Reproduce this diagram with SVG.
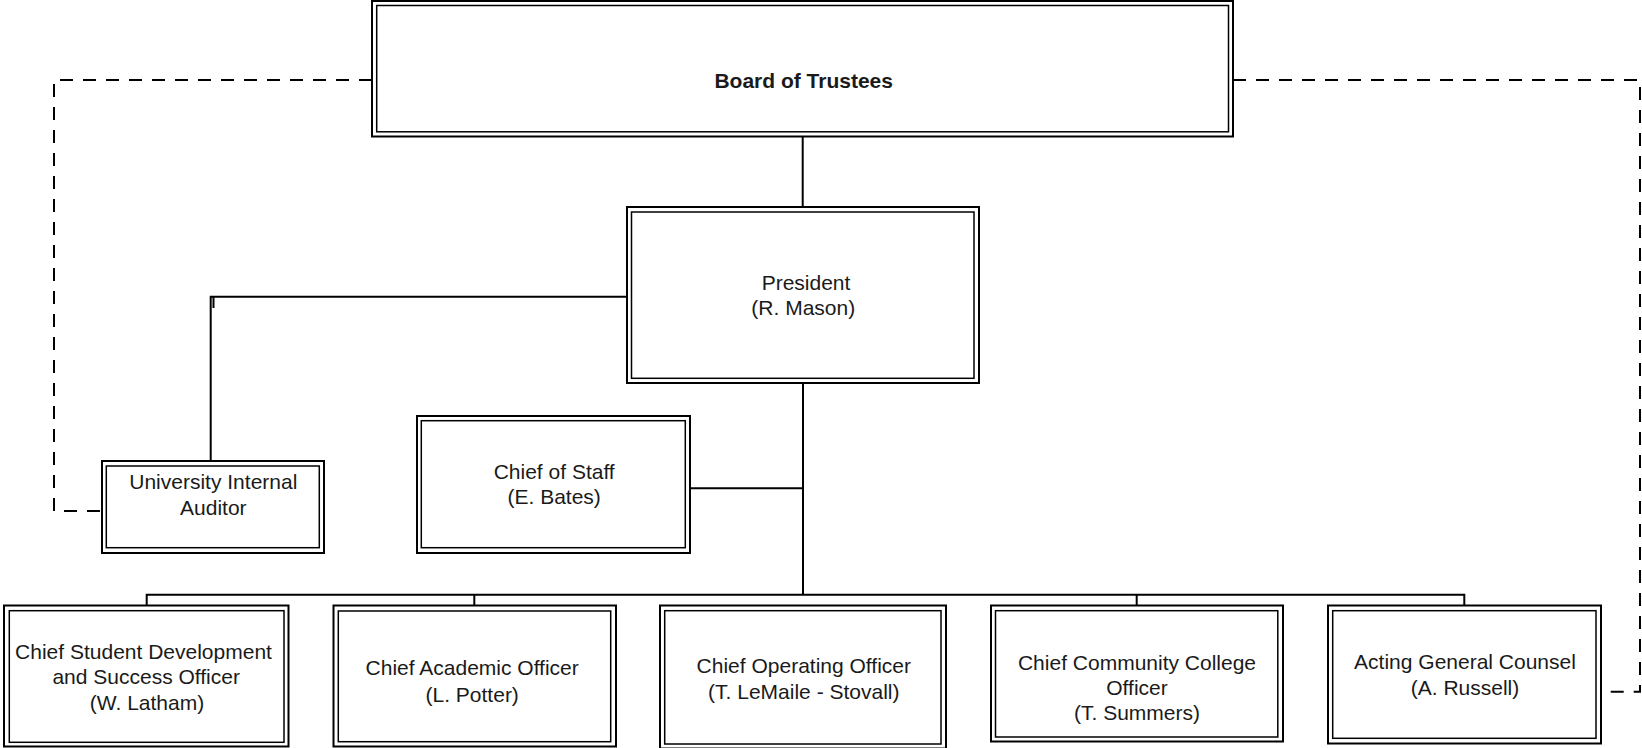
<svg xmlns="http://www.w3.org/2000/svg" width="1642" height="748" viewBox="0 0 1642 748">
<style>
  .outer { fill: #ffffff; stroke: #000; stroke-width: 2; }
  .inner { fill: none; stroke: #000; stroke-width: 1.5; }
  .lbl { font-family: "Liberation Sans", Arial, sans-serif; font-size: 21px; fill: #1a1a1a; text-anchor: middle; }
  .bold { font-weight: bold; }
  .solid { fill: none; stroke: #000; stroke-width: 2; }
  .dash { fill: none; stroke: #000; stroke-width: 2; stroke-dasharray: 13 10; }
</style>
<rect width="1642" height="748" fill="#ffffff"/>
<g id="connectors">
  <path class="solid" d="M802.7 136.5 V206.7"/>
  <path class="solid" d="M803 383 V594.8"/>
  <path class="solid" d="M690 488.3 H803"/>
  <path class="solid" d="M627 296.7 H210.7 V461"/>
  <path class="solid" d="M213.5 297 V308"/>
  <path class="solid" d="M146.7 605.5 V594.8 H1464.3 V605.5"/>
  <path class="solid" d="M474.3 594.8 V605.5"/>
  <path class="solid" d="M1136.7 594.8 V605.5"/>
  <path class="dash" d="M372 80 H54 V511 H102"/>
  <path class="dash" d="M1233 80 H1640 V691.7 H1601"/>
</g>
<g id="board">
  <rect class="outer" x="372" y="1" width="861" height="135.5"/>
  <rect class="inner" x="376.7" y="5.5" width="851.8" height="126.3"/>
  <text class="lbl bold" x="803.7" y="88.3">Board of Trustees</text>
</g>
<g id="president">
  <rect class="outer" x="627" y="207" width="352" height="176"/>
  <rect class="inner" x="631.5" y="212" width="342.5" height="166.3"/>
  <text class="lbl" x="806" y="290">President</text>
  <text class="lbl" x="803.3" y="315">(R. Mason)</text>
</g>
<g id="chief-of-staff">
  <rect class="outer" x="417" y="416" width="273" height="137"/>
  <rect class="inner" x="421.3" y="420.7" width="264" height="127"/>
  <text class="lbl" x="554.2" y="479">Chief of Staff</text>
  <text class="lbl" x="554.2" y="504.3">(E. Bates)</text>
</g>
<g id="auditor">
  <rect class="outer" x="102" y="461" width="222" height="92"/>
  <rect class="inner" x="106.3" y="466" width="213" height="81.7"/>
  <text class="lbl" x="213.3" y="489.3">University Internal</text>
  <text class="lbl" x="213.3" y="515">Auditor</text>
</g>
<g id="student-dev">
  <rect class="outer" x="4" y="605.5" width="284.5" height="141"/>
  <rect class="inner" x="9.3" y="610.7" width="274.7" height="131.6"/>
  <text class="lbl" x="143.5" y="659">Chief Student Development</text>
  <text class="lbl" x="146.2" y="684">and Success Officer</text>
  <text class="lbl" x="147" y="710">(W. Latham)</text>
</g>
<g id="academic">
  <rect class="outer" x="333.5" y="605.5" width="282.5" height="141"/>
  <rect class="inner" x="338.3" y="611" width="272.4" height="130.7"/>
  <text class="lbl" x="472.2" y="675">Chief Academic Officer</text>
  <text class="lbl" x="472.2" y="701.7">(L. Potter)</text>
</g>
<g id="coo">
  <rect class="outer" x="660" y="605.5" width="286" height="143"/>
  <rect class="inner" x="664.7" y="610.7" width="276.3" height="133.3"/>
  <text class="lbl" x="803.8" y="673.3">Chief Operating Officer</text>
  <text class="lbl" x="803.8" y="699">(T. LeMaile - Stovall)</text>
</g>
<g id="community-college">
  <rect class="outer" x="991" y="605.5" width="292" height="136"/>
  <rect class="inner" x="995.5" y="610.7" width="282.3" height="126.3"/>
  <text class="lbl" x="1137" y="670">Chief Community College</text>
  <text class="lbl" x="1137" y="694.5">Officer</text>
  <text class="lbl" x="1137" y="719.5">(T. Summers)</text>
</g>
<g id="general-counsel">
  <rect class="outer" x="1328" y="605.5" width="273" height="138"/>
  <rect class="inner" x="1332.7" y="610.7" width="263.3" height="127.6"/>
  <text class="lbl" x="1465" y="669.3">Acting General Counsel</text>
  <text class="lbl" x="1465" y="695">(A. Russell)</text>
</g>
</svg>
